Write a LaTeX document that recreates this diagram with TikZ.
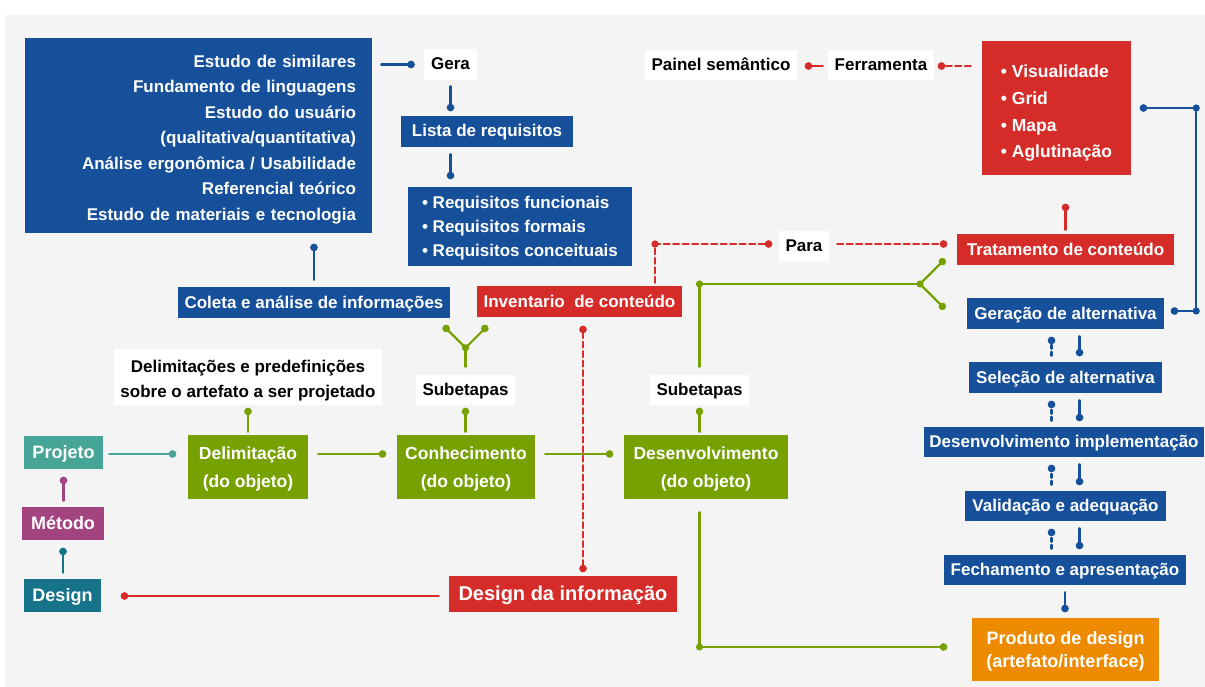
\documentclass[tikz,border=0pt]{standalone}
\usepackage{fontspec}
\setmainfont{Liberation Sans}
\usetikzlibrary{arrows.meta}

\definecolor{azul}{RGB}{22,80,155}
\definecolor{vermelho}{RGB}{214,44,41}
\definecolor{verde}{RGB}{118,161,0}
\definecolor{laranja}{RGB}{238,138,0}
\definecolor{verdeagua}{RGB}{70,165,150}
\definecolor{roxo}{RGB}{163,68,128}
\definecolor{petroleo}{RGB}{22,115,138}
\definecolor{fundo}{RGB}{244,244,244}

\begin{document}
\begin{tikzpicture}[x=1pt,y=-1pt,>={Circle[length=7.5pt,width=7.5pt]},line cap=round,line join=round,
  caixa/.style={inner sep=0pt,text=white,align=center,text height=11pt,text depth=-4.6pt,font=\bfseries\fontsize{17}{24}\selectfont},
  azulbox/.style={caixa,fill=azul},
  vermbox/.style={caixa,fill=vermelho},
  verdebox/.style={caixa,fill=verde,minimum height=64,text height=40pt,text depth=-2pt,font=\bfseries\fontsize{17.5}{28}\selectfont},
  metbox/.style={caixa,minimum height=33,text height=12pt,text depth=-5pt,font=\bfseries\fontsize{18}{22}\selectfont},
  rotulo/.style={caixa,fill=white,text=black},
  liga/.style={line width=2.2pt},
  tracejado/.style={liga,dash pattern=on 6pt off 3.5pt}]
\useasboundingbox (0,0) rectangle (1205,687);
\fill[fundo] (5,15) rectangle (1205,687);
\node[azulbox,minimum width=347,minimum height=195,text width=315,align=right,text height=12pt,text depth=148.8pt,font=\bfseries\fontsize{17}{25.5}\selectfont] (estudo) at (198.5,135.5) {Estudo de similares\hspace*{5pt}\\Fundamento de linguagens\hspace*{5pt}\\Estudo do usuário\\(qualitativa/quantitativa)\hspace*{5pt}\\Análise ergonômica / Usabilidade\hspace*{5pt}\\Referencial teórico\\Estudo de materiais e tecnologia};
\node[rotulo,minimum width=53,minimum height=31] (gera) at (450.5,64.5) {Gera};
\node[azulbox,minimum width=172,minimum height=31] (lista) at (487,131.5) {Lista de requisitos};
\node[azulbox,minimum width=224,minimum height=79,align=left,text height=60pt,text depth=-1.2pt] (requisitos) at (520,226.5) {\textbullet\ Requisitos funcionais\\\textbullet\ Requisitos formais\\\textbullet\ Requisitos conceituais};
\node[azulbox,minimum width=272,minimum height=31] (coleta) at (314,302.5) {Coleta e análise de informações};
\node[vermbox,minimum width=205,minimum height=31] (inventario) at (579.5,301.5) {Inventario~~de conteúdo};
\node[rotulo,minimum width=152,minimum height=30] (painel) at (721,65) {Painel semântico};
\node[rotulo,minimum width=106,minimum height=30] (ferramenta) at (881,65) {Ferramenta};
\node[vermbox,minimum width=149,minimum height=134,align=left,text height=100pt,text depth=-2.6pt,font=\bfseries\fontsize{17.5}{26.7}\selectfont] (visual) at (1056.5,108) {\textbullet\ Visualidade\\\textbullet\ Grid\\\textbullet\ Mapa\\\textbullet\ Aglutinação};
\node[rotulo,minimum width=50,minimum height=30] (para) at (804,246) {Para};
\node[vermbox,minimum width=217,minimum height=31] (tratamento) at (1065.5,249.5) {Tratamento de conteúdo};
\node[azulbox,minimum width=197,minimum height=31] (geracao) at (1065.5,313.5) {Geração de alternativa};
\node[azulbox,minimum width=193,minimum height=31] (selecao) at (1065.5,377.5) {Seleção de alternativa};
\node[azulbox,minimum width=280,minimum height=30] (implementa) at (1064,442) {Desenvolvimento implementação};
\node[azulbox,minimum width=201,minimum height=30] (validacao) at (1065.5,506) {Validação e adequação};
\node[azulbox,minimum width=242,minimum height=30] (fechamento) at (1065,570) {Fechamento e apresentação};
\node[caixa,fill=laranja,minimum width=187,minimum height=63,text height=36pt,text depth=-1.4pt,font=\bfseries\fontsize{18}{23}\selectfont] (produto) at (1065.5,649.5) {Produto de design\\(artefato/interface)};
\node[rotulo,minimum width=268,minimum height=56,text height=40pt,text depth=-2.8pt,font=\bfseries\fontsize{17}{25}\selectfont] (delimlabel) at (248,377) {Delimitações e predefinições\\sobre o artefato a ser projetado};
\node[rotulo,minimum width=99,minimum height=30] (sub1) at (465.5,390) {Subetapas};
\node[rotulo,minimum width=99,minimum height=30] (sub2) at (699.5,390) {Subetapas};
\node[metbox,fill=verdeagua,minimum width=79] (projeto) at (63.5,452.5) {Projeto};
\node[verdebox,minimum width=120] (delimitacao) at (248,467) {Delimitação\\(do objeto)};
\node[verdebox,minimum width=138] (conhecimento) at (466,467) {Conhecimento\\(do objeto)};
\node[verdebox,minimum width=164] (desenvolvimento) at (706,467) {Desenvolvimento\\(do objeto)};
\node[metbox,fill=roxo,minimum width=82] (metodo) at (63,523.5) {Método};
\node[metbox,fill=petroleo,minimum width=77] (design) at (62.5,595.5) {Design};
\node[vermbox,minimum width=228,minimum height=36,text height=13pt,text depth=-5pt,font=\bfseries\fontsize{20}{24}\selectfont] (dinfo) at (563,594) {Design da informação};
\coordinate (ybase) at ([yshift=27pt]sub1.north);
\coordinate (yesq) at ([xshift=-22pt,yshift=22pt]ybase);
\coordinate (ydir) at ([xshift=22pt,yshift=22pt]ybase);
\coordinate (gc) at (699.5,284);
\coordinate (gj) at (920,284);
\coordinate (gtrat) at (945,259);
\coordinate (gger) at (945,309);
\coordinate (gb) at (sub2.south |- 0,647);
\coordinate (canto1) at ([xshift=65pt]visual.east);
\coordinate (canto2) at (canto1 |- 0,311);
\coordinate (ix) at ([xshift=75.5pt]inventario.north);
\coordinate (ic) at (ix |- 0,244);
\coordinate (iv) at ([xshift=3.5pt]inventario.south);
\draw[liga,azul,->,shorten <=9pt,shorten >=9pt] (estudo.east |- gera.west) -- (gera.west);
\draw[liga,azul,->,shorten <=6pt,shorten >=4.5pt] (gera.south) -- (gera.south |- lista.north);
\draw[liga,azul,->,shorten <=7pt,shorten >=7.5pt] (gera.south |- lista.south) -- (gera.south |- requisitos.north);
\draw[liga,azul,<-,shorten <=10.5pt,shorten >=7pt] (coleta.north |- estudo.south) -- (coleta.north);
\draw[liga,azul,<->,shorten <=8.5pt,shorten >=6.5pt] (visual.east) -- (canto1) -- (canto2) -- (canto2 -| geracao.east);
\fill[azul] (canto1) circle (3.6pt) (canto2) circle (3.6pt);
\foreach \a/\b in {geracao/selecao,selecao/implementa,implementa/validacao,validacao/fechamento}{
  \draw[liga,azul,dash pattern=on 4pt off 3pt,->,shorten <=6pt,shorten >=7.5pt] ([xshift=-14pt]geracao.south |- \b.north) -- ([xshift=-14pt]geracao.south |- \a.south);
  \draw[liga,azul,->,shorten <=7pt,shorten >=5.5pt] ([xshift=14pt]geracao.south |- \a.south) -- ([xshift=14pt]geracao.south |- \b.north);
}
\draw[liga,azul,->,shorten <=7pt,shorten >=5.5pt] (fechamento.south) -- (fechamento.south |- produto.north);
\draw[liga,verdeagua,->,shorten <=6pt,shorten >=11.5pt] ([yshift=-1.5pt]projeto.east) -- ([yshift=-1.5pt]projeto.east -| delimitacao.west);
\draw[liga,verde,->,shorten <=10pt,shorten >=10.5pt] ([yshift=13pt]delimitacao.east) -- ([yshift=13pt]conhecimento.west);
\draw[liga,verde,->,shorten <=10pt,shorten >=10.5pt] ([yshift=13pt]conhecimento.east) -- ([yshift=13pt]desenvolvimento.west);
\draw[liga,verde,<-,shorten <=2.5pt,shorten >=3pt] (delimlabel.south) -- (delimitacao.north);
\draw[liga,verde,<-,shorten <=2.5pt,shorten >=3pt] (sub1.south) -- (sub1.south |- conhecimento.north);
\draw[liga,verde,<-,shorten <=2.5pt,shorten >=3pt] (sub2.south) -- (sub2.south |- desenvolvimento.north);
\draw[liga,verde,shorten >=8pt] (ybase) -- (sub1.north);
\draw[liga,verde,->] (ybase) -- (yesq);
\draw[liga,verde,->] (ybase) -- (ydir);
\fill[verde] (ybase) circle (3.6pt);
\draw[liga,verde,shorten <=8pt] (sub2.north) -- (gc) -- (gj);
\draw[liga,verde,->] (gj) -- (gtrat);
\draw[liga,verde,->] (gj) -- (gger);
\fill[verde] (gc) circle (3.6pt) (gj) circle (3.6pt);
\draw[liga,verde,->,shorten <=13pt,shorten >=24.5pt] (sub2.south |- desenvolvimento.south) -- (gb) -- (gb -| produto.west);
\fill[verde] (gb) circle (3.6pt);
\draw[liga,roxo,<-,shorten <=7.5pt,shorten >=6pt] (projeto.south) -- (projeto.south |- metodo.north);
\draw[liga,petroleo,<-,shorten <=7.5pt,shorten >=6pt] (metodo.south) -- (metodo.south |- design.north);
\draw[liga,vermelho,->,shorten <=5pt,shorten >=7.5pt] ([yshift=-1pt]ferramenta.west) -- ([yshift=-1pt]painel.east);
\draw[tracejado,vermelho,->,shorten <=11pt,shorten >=3.5pt] ([yshift=-1pt]visual.west |- ferramenta.east) -- ([yshift=-1pt]ferramenta.east);
\draw[liga,vermelho,<-,shorten <=28.5pt,shorten >=4pt] (tratamento.north |- visual.south) -- (tratamento.north);
\draw[tracejado,vermelho,->,shorten <=3pt,shorten >=6.5pt] (ix) -- (ic) -- (ic -| para.west);
\fill[vermelho] (ic) circle (3.6pt);
\draw[tracejado,vermelho,->,shorten <=8pt,shorten >=9.5pt] (ic -| para.east) -- (ic -| tratamento.west);
\draw[tracejado,vermelho,<->,shorten <=8.5pt,shorten >=3.5pt] (iv) -- (iv |- dinfo.north);
\draw[liga,vermelho,->,shorten <=10pt,shorten >=19.5pt] ([yshift=-2pt]dinfo.west) -- ([yshift=-2pt]dinfo.west -| design.east);
\end{tikzpicture}
\end{document}
